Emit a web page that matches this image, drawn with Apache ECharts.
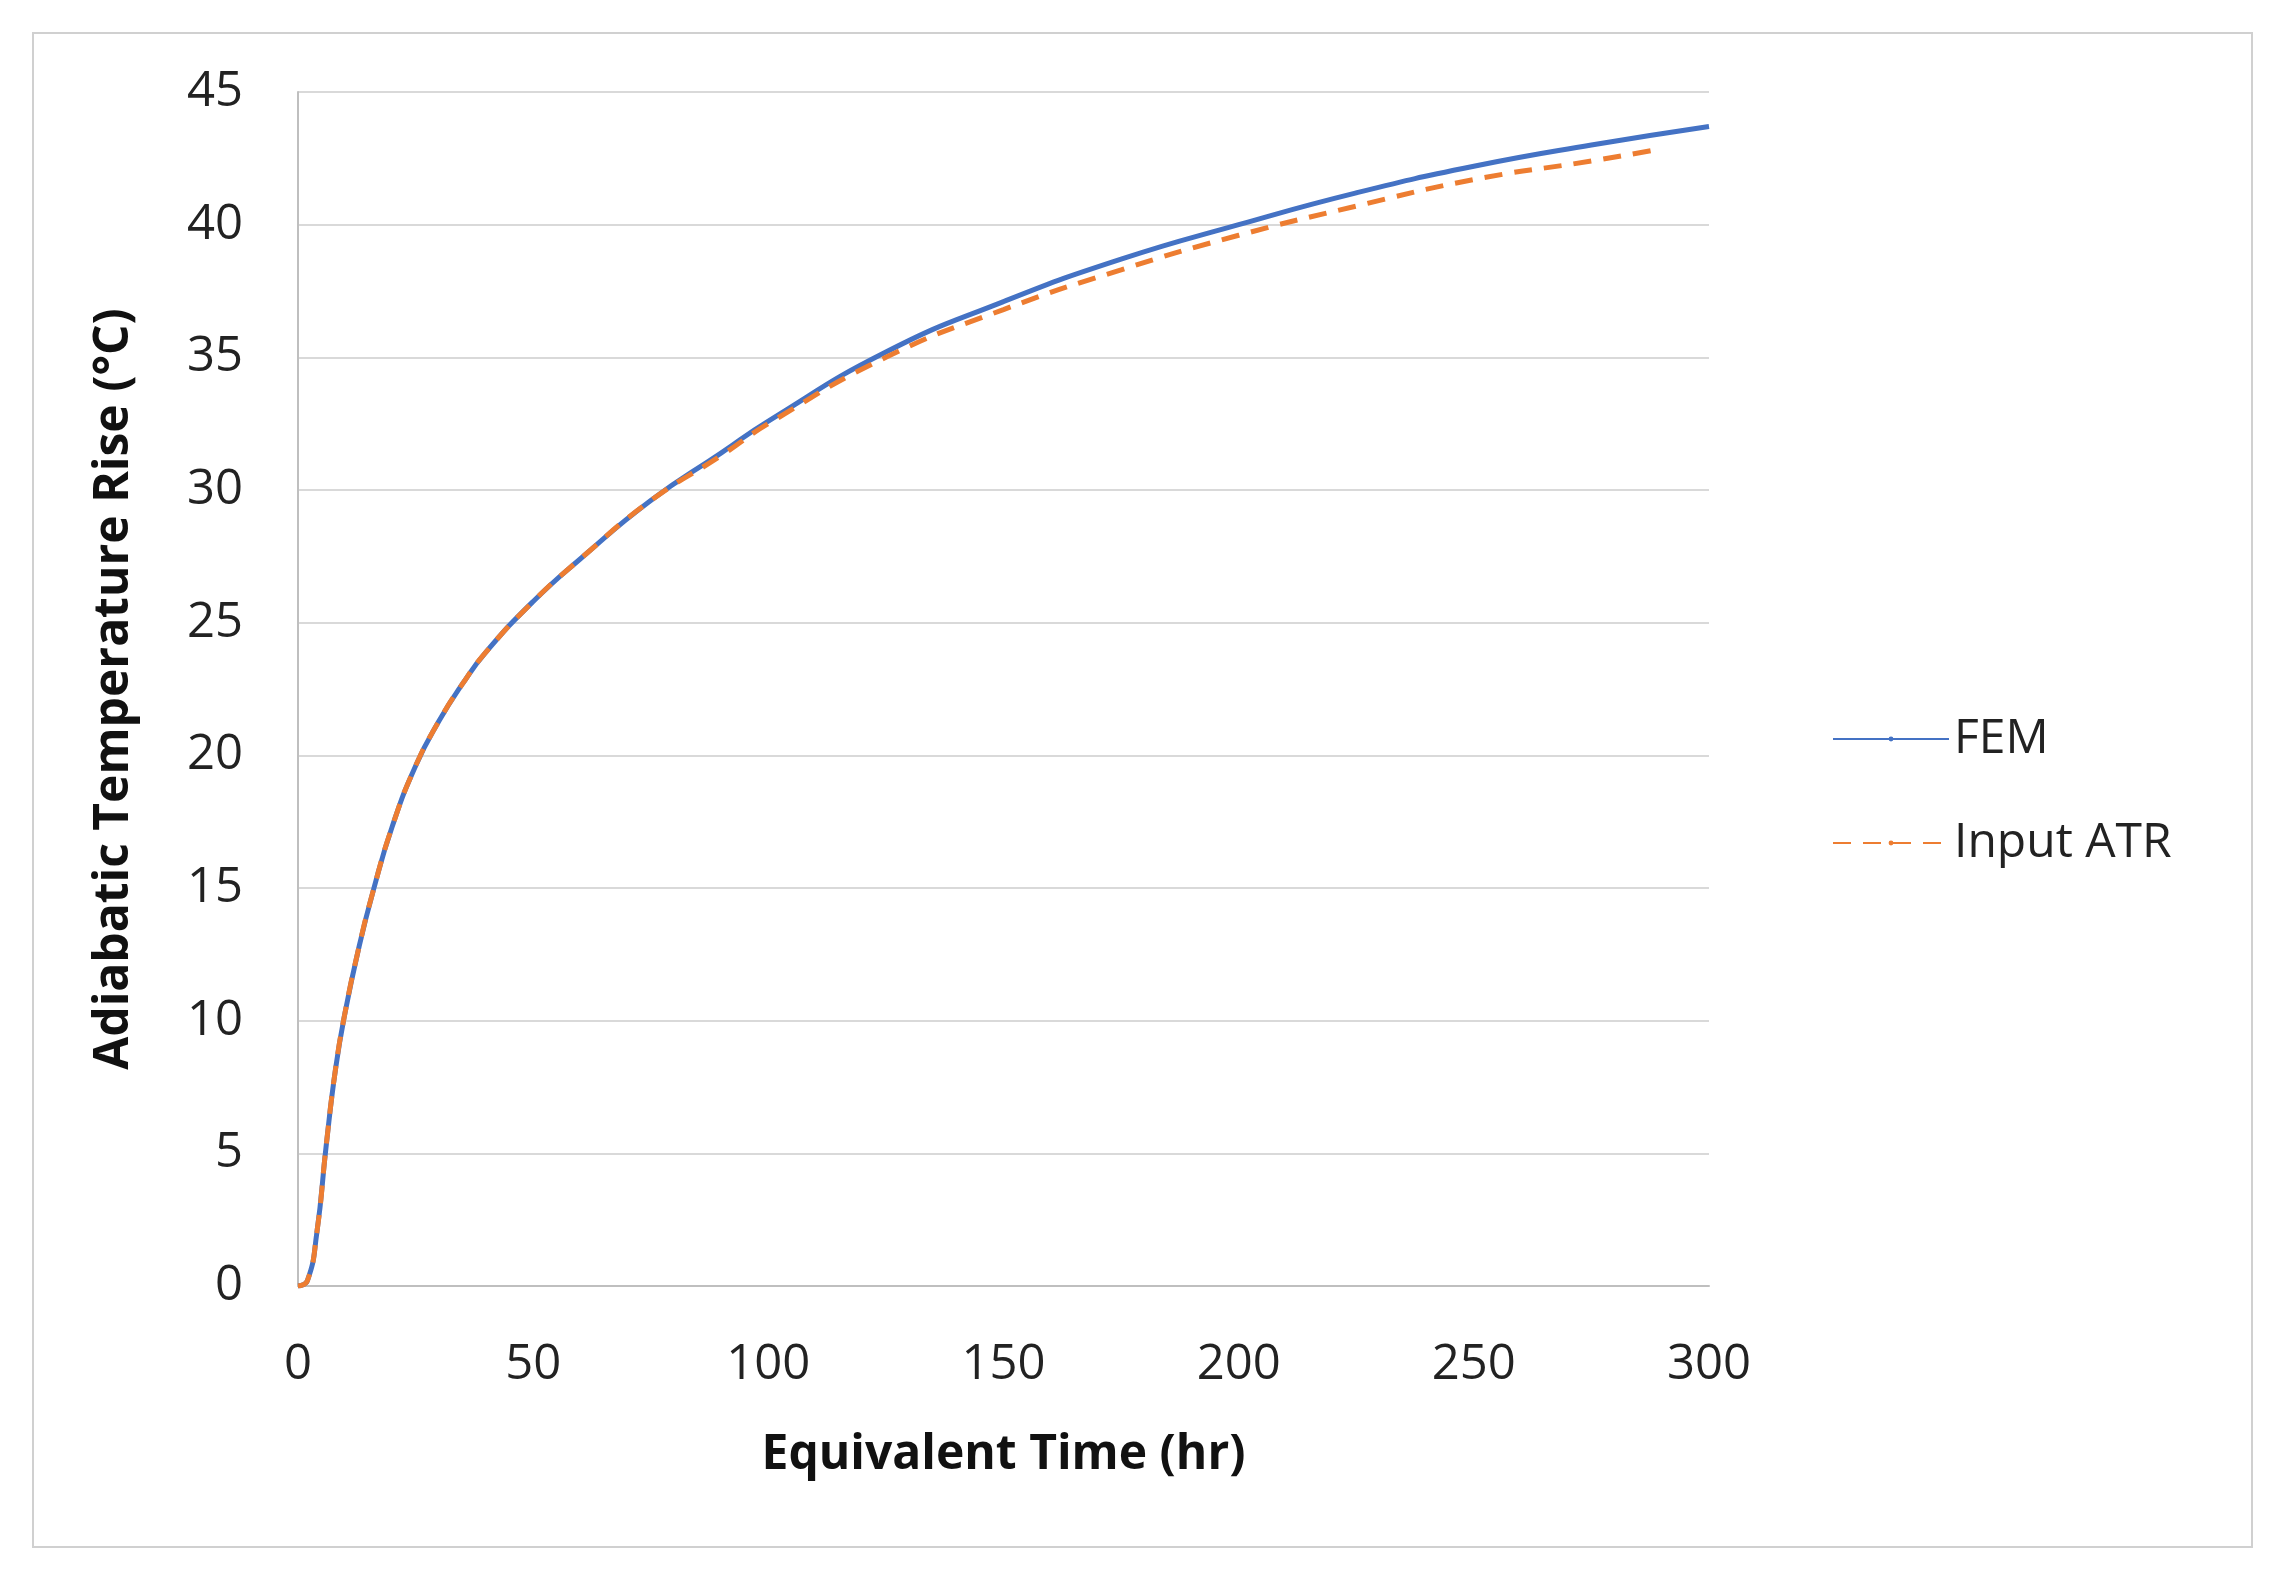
<!DOCTYPE html><html><head><meta charset="utf-8"><script src="https://cdn.jsdelivr.net/npm/echarts@6/dist/echarts.min.js"></script>
<style>html,body{margin:0;background:#fff}#c{width:2277px;height:1572px}#f{position:absolute;left:32px;top:32px;width:2217px;height:1512px;border:2px solid #d0d0d0;pointer-events:none}</style></head><body><div id="c"></div><div id="f"></div><script>
const femX=[0,2,4,6,8,10,13,16,20,25,30,35,40,50,60,75,90,100,125,150,175,200,225,250,275,300];
const femY=[0,0.2,2,5.3,8.2,10.3,12.8,14.9,17.3,19.6,21.3,22.7,23.9,25.8,27.4,29.6,31.4,32.6,35.2,37.1,38.7,40.0,41.2,42.2,43.0,43.7];
const atrX=[0,2,4,6,8,10,13,16,20,25,30,35,40,50,60,75,90,100,125,150,175,200,225,250,275,288];
const atrY=[0,0.2,2,5.3,8.2,10.3,12.8,14.9,17.3,19.6,21.3,22.7,23.9,25.8,27.4,29.6,31.3,32.5,35.0,36.8,38.3,39.6,40.7,41.7,42.4,42.8];
const xTicks=[0,50,100,150,200,250,300];
const ch=echarts.init(document.getElementById('c'));
const font='"Open Sans", "Noto Sans", sans-serif';
ch.setOption({
 animation:false,
 grid:{left:298,right:2277-1709,top:92,bottom:1572-1286},
 legend:{orient:'vertical',left:1827,top:710,itemWidth:116,itemHeight:6,itemGap:56,textStyle:{fontSize:48,fontFamily:font,color:'#222'},
  data:[{name:'FEM'},{name:'Input ATR'}]},
 xAxis:{type:'value',min:0,max:300,interval:50,name:'Equivalent Time (hr)',nameLocation:'middle',nameGap:145,
  nameTextStyle:{fontSize:48,fontWeight:'bold',fontFamily:font,color:'#111'},
  axisLine:{lineStyle:{color:'#bfbfbf',width:2}},axisTick:{show:false},splitLine:{show:false},
  axisLabel:{fontSize:49,fontFamily:font,color:'#222',margin:55}},
 yAxis:{type:'value',min:0,max:45,interval:5,name:'Adiabatic Temperature Rise (°C)',nameLocation:'middle',nameGap:160,
  nameTextStyle:{fontSize:48,fontWeight:'bold',fontFamily:font,color:'#111'},
  axisLine:{show:true,lineStyle:{color:'#bfbfbf',width:2}},axisTick:{show:false},
  splitLine:{lineStyle:{color:'#d9d9d9',width:2}},
  axisLabel:{fontSize:49,fontFamily:font,color:'#222',margin:55}},
 series:[
  {name:'FEM',type:'line',smooth:0.5,symbol:'none',data:femX.map((x,i)=>[x,femY[i]]),lineStyle:{color:'#4472c4',width:5},itemStyle:{color:'#4472c4'}},
  {name:'Input ATR',type:'line',smooth:0.5,symbol:'none',data:atrX.map((x,i)=>[x,atrY[i]]),lineStyle:{color:'#ed7d31',width:5,type:[18,12]},itemStyle:{color:'#ed7d31'}}
 ]
});
</script></body></html>
